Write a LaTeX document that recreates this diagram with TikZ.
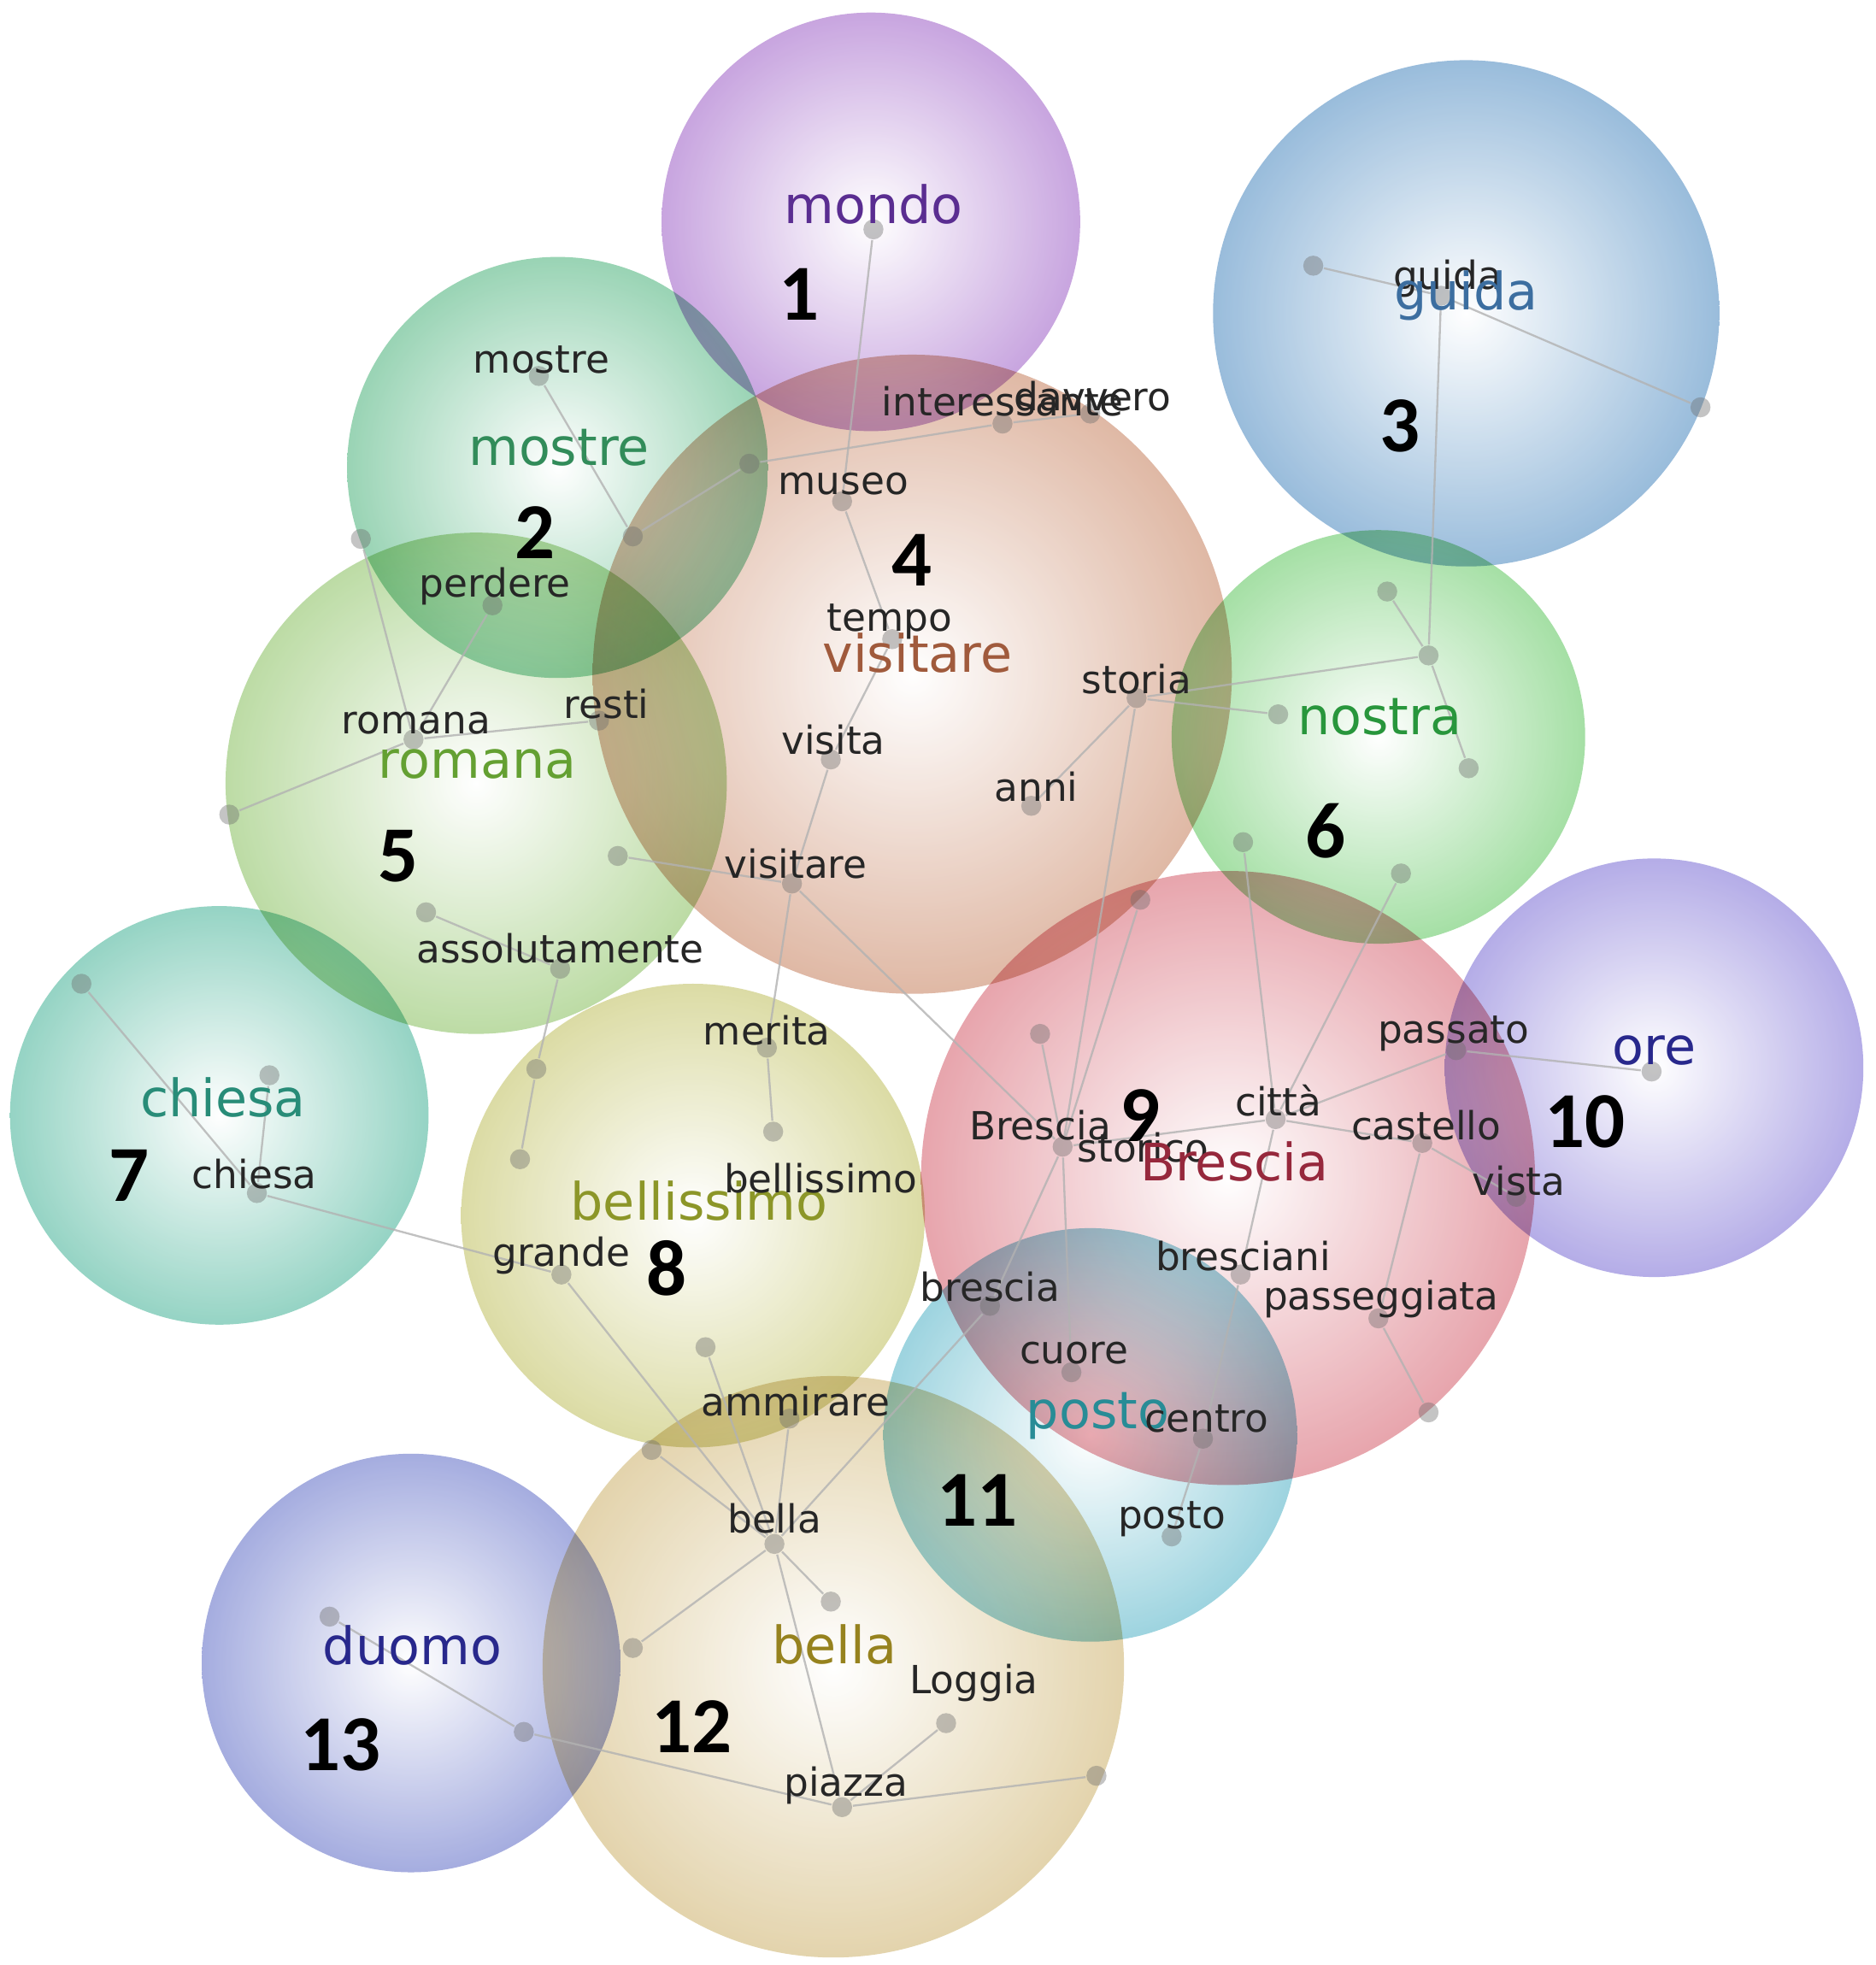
\documentclass[tikz,border=0pt]{standalone}
\usepackage{fontspec}
\setmainfont{DejaVu Sans}
\newfontfamily\numfont{Carlito}
\pgfdeclarelayer{bg}
\pgfdeclarelayer{mid}
\pgfsetlayers{bg,mid,main}
\definecolor{cA}{RGB}{185,140,215}
\definecolor{cB}{RGB}{125,200,160}
\definecolor{cC}{RGB}{125,170,210}
\definecolor{cD}{RGB}{215,165,140}
\definecolor{cE}{RGB}{170,210,140}
\definecolor{cF}{RGB}{140,215,140}
\definecolor{cG}{RGB}{120,200,180}
\definecolor{cH}{RGB}{210,210,140}
\definecolor{cI}{RGB}{225,140,150}
\definecolor{cJ}{RGB}{160,150,225}
\definecolor{cK}{RGB}{130,200,215}
\definecolor{cL}{RGB}{220,200,150}
\definecolor{cM}{RGB}{140,150,215}
\definecolor{tA}{RGB}{90,45,145}
\definecolor{tB}{RGB}{50,140,90}
\definecolor{tC}{RGB}{60,110,160}
\definecolor{tD}{RGB}{160,90,60}
\definecolor{tE}{RGB}{100,160,50}
\definecolor{tF}{RGB}{40,150,60}
\definecolor{tG}{RGB}{40,140,120}
\definecolor{tH}{RGB}{140,150,40}
\definecolor{tI}{RGB}{150,40,60}
\definecolor{tJ}{RGB}{40,40,140}
\definecolor{tK}{RGB}{40,140,150}
\definecolor{tL}{RGB}{150,130,30}
\definecolor{tM}{RGB}{40,40,140}
\begin{document}
\begin{tikzpicture}[x=0.01cm,y=-0.01cm,
  sph/.style={inner color=white, outer color=#1, opacity=0.78},
  dotn/.style={circle, fill=gray!85!black, fill opacity=0.4, inner sep=0pt, minimum size=0.16cm},
  lnk/.style={draw=gray!60, line width=0.45pt, draw opacity=0.8},
  sw/.style={font=\fontsize{8.8}{10}\selectfont, text=black!85, inner sep=0pt},
  bw/.style={font=\fontsize{11.7}{13}\selectfont, text=#1, inner sep=0pt},
  num/.style={font=\numfont\bfseries\fontsize{18}{20}\selectfont, inner sep=0pt}]
\useasboundingbox (0,0) rectangle (1497,1568);
\begin{pgfonlayer}{bg}
\fill[white] (0,0) rectangle (1497,1568);
\begin{scope}[blend mode=multiply]
\shade[sph=cA] (695,177) circle[radius=167];
\shade[sph=cB] (445,373) circle[radius=168];
\shade[sph=cC] (1170,250) circle[radius=202];
\shade[sph=cD] (728,538) circle[radius=255];
\shade[sph=cE] (380,625) circle[radius=200];
\shade[sph=cF] (1100,588) circle[radius=165];
\shade[sph=cG] (175,890) circle[radius=167];
\shade[sph=cH] (553,970) circle[radius=185];
\shade[sph=cI] (980,940) circle[radius=245];
\shade[sph=cJ] (1320,852) circle[radius=167];
\shade[sph=cK] (870,1145) circle[radius=165];
\shade[sph=cL] (665,1330) circle[radius=232];
\shade[sph=cM] (328,1327) circle[radius=167];
\end{scope}
\end{pgfonlayer}
% dots
\node[dotn] (mondo) at (697,183) {};
\node[dotn] (museo) at (672,400) {};
\node[dotn] (ld) at (598,370) {};
\node[dotn] (inte) at (800,338) {};
\node[dotn] (davv) at (870,330) {};
\node[dotn] (tempo) at (712,510) {};
\node[dotn] (visita) at (663,606) {};
\node[dotn] (anni) at (823,643) {};
\node[dotn] (storia) at (907,557) {};
\node[dotn] (visS) at (632,705) {};
\node[dotn] (mosS) at (430,300) {};
\node[dotn] (m2) at (505,428) {};
\node[dotn] (m3) at (288,430) {};
\node[dotn] (perd) at (393,483) {};
\node[dotn] (romS) at (330,590) {};
\node[dotn] (resti) at (478,575) {};
\node[dotn] (r1) at (183,650) {};
\node[dotn] (r2) at (493,683) {};
\node[dotn] (r3) at (340,728) {};
\node[dotn] (asso) at (447,773) {};
\node[dotn] (g1) at (1048,212) {};
\node[dotn] (guiS) at (1150,236) {};
\node[dotn] (g2) at (1357,325) {};
\node[dotn] (n1) at (1107,472) {};
\node[dotn] (n2) at (1140,523) {};
\node[dotn] (n3) at (1020,570) {};
\node[dotn] (n4) at (1172,613) {};
\node[dotn] (n5) at (992,672) {};
\node[dotn] (n6) at (1118,697) {};
\node[dotn] (b1) at (910,718) {};
\node[dotn] (b2) at (830,825) {};
\node[dotn] (BreS) at (848,915) {};
\node[dotn] (citta) at (1018,893) {};
\node[dotn] (cast) at (1135,912) {};
\node[dotn] (pass) at (1162,838) {};
\node[dotn] (vista) at (1210,955) {};
\node[dotn] (bresc) at (990,1017) {};
\node[dotn] (passeg) at (1100,1052) {};
\node[dotn] (breS2) at (790,1042) {};
\node[dotn] (cuore) at (855,1095) {};
\node[dotn] (centro) at (960,1148) {};
\node[dotn] (b3) at (1140,1127) {};
\node[dotn] (ore) at (1318,855) {};
\node[dotn] (posto) at (935,1226) {};
\node[dotn] (merita) at (612,836) {};
\node[dotn] (e1) at (617,903) {};
\node[dotn] (e2) at (428,853) {};
\node[dotn] (e3) at (415,925) {};
\node[dotn] (grande) at (448,1017) {};
\node[dotn] (e4) at (563,1075) {};
\node[dotn] (ammi) at (630,1132) {};
\node[dotn] (c1) at (65,785) {};
\node[dotn] (c2) at (215,858) {};
\node[dotn] (chiS) at (205,952) {};
\node[dotn] (f1) at (520,1157) {};
\node[dotn] (bella) at (618,1232) {};
\node[dotn] (f2) at (663,1278) {};
\node[dotn] (f3) at (505,1315) {};
\node[dotn] (loggia) at (755,1375) {};
\node[dotn] (piazza) at (672,1442) {};
\node[dotn] (f4) at (875,1417) {};
\node[dotn] (d1) at (263,1290) {};
\node[dotn] (d2) at (418,1382) {};
% edges
\begin{pgfonlayer}{mid}
\draw[lnk] (mondo) -- (museo);
\draw[lnk] (museo) -- (tempo);
\draw[lnk] (tempo) -- (visita);
\draw[lnk] (visita) -- (visS);
\draw[lnk] (inte) -- (ld);
\draw[lnk] (inte) -- (davv);
\draw[lnk] (ld) -- (m2);
\draw[lnk] (mosS) -- (m2);
\draw[lnk] (m3) -- (romS);
\draw[lnk] (perd) -- (romS);
\draw[lnk] (romS) -- (resti);
\draw[lnk] (romS) -- (r1);
\draw[lnk] (r2) -- (visS);
\draw[lnk] (r3) -- (asso);
\draw[lnk] (asso) -- (e2);
\draw[lnk] (e2) -- (e3);
\draw[lnk] (visS) -- (merita);
\draw[lnk] (merita) -- (e1);
\draw[lnk] (visS) -- (BreS);
\draw[lnk] (storia) -- (anni);
\draw[lnk] (storia) -- (n3);
\draw[lnk] (storia) -- (n2);
\draw[lnk] (storia) -- (BreS);
\draw[lnk] (b1) -- (BreS);
\draw[lnk] (guiS) -- (g1);
\draw[lnk] (guiS) -- (g2);
\draw[lnk] (guiS) -- (n2);
\draw[lnk] (n1) -- (n2);
\draw[lnk] (n2) -- (n4);
\draw[lnk] (n5) -- (citta);
\draw[lnk] (n6) -- (citta);
\draw[lnk] (BreS) -- (citta);
\draw[lnk] (citta) -- (pass);
\draw[lnk] (citta) -- (cast);
\draw[lnk] (pass) -- (ore);
\draw[lnk] (cast) -- (vista);
\draw[lnk] (cast) -- (passeg);
\draw[lnk] (passeg) -- (b3);
\draw[lnk] (BreS) -- (b2);
\draw[lnk] (BreS) -- (cuore);
\draw[lnk] (BreS) -- (breS2);
\draw[lnk] (citta) -- (bresc);
\draw[lnk] (bresc) -- (centro);
\draw[lnk] (centro) -- (posto);
\draw[lnk] (breS2) -- (bella);
\draw[lnk] (chiS) -- (c1);
\draw[lnk] (chiS) -- (c2);
\draw[lnk] (chiS) -- (grande);
\draw[lnk] (grande) -- (bella);
\draw[lnk] (f1) -- (bella);
\draw[lnk] (e4) -- (bella);
\draw[lnk] (ammi) -- (bella);
\draw[lnk] (bella) -- (f2);
\draw[lnk] (bella) -- (f3);
\draw[lnk] (bella) -- (piazza);
\draw[lnk] (piazza) -- (loggia);
\draw[lnk] (piazza) -- (f4);
\draw[lnk] (piazza) -- (d2);
\draw[lnk] (d2) -- (d1);
\end{pgfonlayer}
% small labels
\node[sw] (museoL) at (673,386) {museo};
\node[sw] (inteL) at (800,320) {interessante};
\node[sw] (davvL) at (872,316) {davvero};
\node[sw] (tempoL) at (710,496) {tempo};
\node[sw] (visitaL) at (665,590) {visita};
\node[sw] (anniL) at (827,628) {anni};
\node[sw] (storiaL) at (907,542) {storia};
\node[sw] (visSL) at (635,689) {visitare};
\node[sw] (mosSL) at (432,287) {mostre};
\node[sw] (perdL) at (395,468) {perdere};
\node[sw] (romSL) at (332,577) {romana};
\node[sw] (restiL) at (484,562) {resti};
\node[sw] (assoL) at (447,757) {assolutamente};
\node[sw] (guiSL) at (1155,222) {guida};
\node[sw] (BreSL) at (830,898) {Brescia};
\node[sw] (storicoL) at (912,916) {storico};
\node[sw] (cittaL) at (1020,878) {città};
\node[sw] (castL) at (1138,898) {castello};
\node[sw] (passL) at (1160,825) {passato};
\node[sw] (vistaL) at (1212,942) {vista};
\node[sw] (brescL) at (992,1002) {bresciani};
\node[sw] (passegL) at (1102,1037) {passeggiata};
\node[sw] (breS2L) at (790,1027) {brescia};
\node[sw] (cuoreL) at (857,1080) {cuore};
\node[sw] (postoL) at (935,1212) {posto};
\node[sw] (meritaL) at (612,822) {merita};
\node[sw] (grandeL) at (448,1002) {grande};
\node[sw] (ammiL) at (635,1118) {ammirare};
\node[sw] (chiSL) at (203,937) {chiesa};
\node[sw] (bellaL) at (618,1212) {bella};
\node[sw] (loggiaL) at (777,1343) {Loggia};
\node[sw] (piazzaL) at (675,1425) {piazza};
% big labels
\node[bw=tA] (mondoB) at (697,163) {mondo};
\node[bw=tB] (mostreB) at (446,357) {mostre};
\node[bw=tC] (guidaB) at (1170,236) {guida};
\node[bw=tD] (visitareB) at (732,521) {visitare};
\node[bw=tE] (romanaB) at (381,610) {romana};
\node[bw=tF] (nostraB) at (1101,572) {nostra};
\node[bw=tG] (chiesaB) at (178,876) {chiesa};
\node[bw=tH] (bellissimoB) at (558,958) {bellissimo};
\node[sw] (belliSL) at (655,940) {bellissimo};
\node[bw=tI] (bresciaB) at (985,927) {Brescia};
\node[bw=tJ] (oreB) at (1320,838) {ore};
\node[bw=tK] (postoB) at (876,1130) {posto};
\node[sw] (centroL) at (963,1132) {centro};
\node[bw=tL] (bellaB) at (666,1312) {bella};
\node[bw=tM] (duomoB) at (329,1313) {duomo};
% numbers
\node[num] (k1) at (638,235) {1};
\node[num] (k2) at (427,425) {2};
\node[num] (k3) at (1117,340) {3};
\node[num] (k4) at (728,447) {4};
\node[num] (k5) at (318,683) {5};
\node[num] (k6) at (1058,663) {6};
\node[num] (k7) at (103,938) {7};
\node[num] (k8) at (532,1012) {8};
\node[num] (k9) at (910,890) {9};
\node[num] (k10) at (1265,895) {10};
\node[num] (k11) at (780,1197) {11};
\node[num] (k12) at (552,1378) {12};
\node[num] (k13) at (272,1392) {13};
\end{tikzpicture}
\end{document}
